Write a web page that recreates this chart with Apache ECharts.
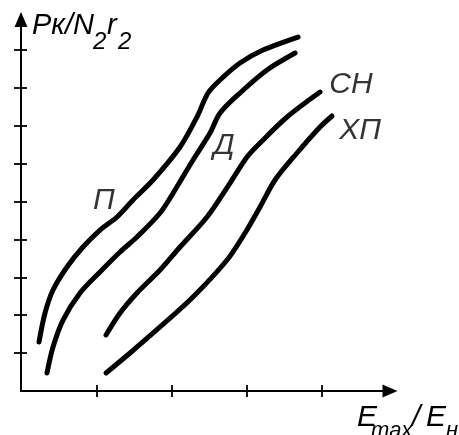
<!DOCTYPE html>
<html>
<head>
<meta charset="utf-8">
<script src="https://cdn.jsdelivr.net/npm/echarts@6/dist/echarts.min.js"></script>
<style>
html,body{margin:0;padding:0;background:#fff;}
#c{width:459px;height:435px;}
</style>
</head>
<body>
<div id="c"></div>
<script>
// Curve data (x in E_max/E_н units, y in Pк/N2r2 units)
var curveP_x = [0.239,0.319,0.425,0.611,0.823,1.049,1.275,1.487,1.753,2.112,2.337,2.483,2.643,2.908,3.214,3.679];
var curveP_y = [1.293,2.058,2.665,3.272,3.799,4.248,4.591,5.040,5.567,6.438,7.230,7.863,8.206,8.654,8.997,9.340];

var curveD_x = [0.345,0.425,0.558,0.784,1.049,1.315,1.540,1.846,2.045,2.284,2.510,2.643,2.908,3.267,3.639];
var curveD_y = [0.475,1.161,1.873,2.586,3.140,3.668,4.063,4.697,5.303,6.095,6.807,7.335,7.863,8.470,8.918];

var curveSN_x = [1.129,1.315,1.540,1.846,2.112,2.470,2.776,3.001,3.174,3.533,3.971];
var curveSN_y = [1.478,2.058,2.586,3.193,3.799,4.591,5.488,6.174,6.544,7.230,7.889];

var curveHP_x = [1.129,1.448,1.846,2.284,2.736,2.975,3.174,3.373,3.665,3.971,4.130];
var curveHP_y = [0.475,1.003,1.689,2.480,3.456,4.169,4.855,5.567,6.280,6.966,7.256];

var curveNames = ['П','Д','СН','ХП'];
var labelX = [1.102, 2.696, 4.382, 4.502];
var labelY = [5.013, 6.464, 8.074, 6.860];

var xTicks = [1,2,3,4];
var yTicks = [1,2,3,4,5,6,7,8,9];
var xMax = 4.9, yMax = 9.8;

function zip(a,b){ var r=[]; for(var i=0;i<a.length;i++) r.push([a[i],b[i]]); return r; }

var FONT = 'Liberation Sans, Arial, sans-serif';
var chart = echarts.init(document.getElementById('c'));

function lineSeries(xs, ys){
  return {
    type:'line', data: zip(xs,ys), smooth:0.3, showSymbol:false, symbol:'none',
    lineStyle:{color:'#000', width:5, cap:'round', join:'round'},
    xAxisIndex:0, yAxisIndex:0, silent:true, clip:false
  };
}

var labelData = [];
for (var i=0;i<curveNames.length;i++) labelData.push([labelX[i], labelY[i], curveNames[i]]);

var axisCommon = {
  type:'value', min:0, splitLine:{show:false}, axisLabel:{show:false}
};
var tickStyle = {color:'#000', width:1.8};

var option = {
  animation:false,
  backgroundColor:'#fff',
  grid:{left:21, right:69, top:19.6, bottom:44, containLabel:false},
  xAxis:[
    Object.assign({}, axisCommon, {
      max:xMax, position:'bottom',
      axisLine:{show:true, onZero:false, symbol:['none','triangle'], symbolSize:[13,15], lineStyle:{color:'#000', width:2}},
      axisTick:{show:true, inside:false, length:6, customValues:xTicks, lineStyle:tickStyle}
    }),
    Object.assign({}, axisCommon, {
      max:xMax, position:'bottom',
      axisLine:{show:true, onZero:false, symbol:'none', lineStyle:{color:'#000', width:2, opacity:0}},
      axisTick:{show:true, inside:true, length:6, customValues:xTicks, lineStyle:tickStyle}
    })
  ],
  yAxis:[
    Object.assign({}, axisCommon, {
      max:yMax, position:'left',
      axisLine:{show:true, onZero:false, symbol:['none','triangle'], symbolSize:[13,15], lineStyle:{color:'#000', width:2}},
      axisTick:{show:true, inside:false, length:7, customValues:yTicks, lineStyle:tickStyle}
    }),
    Object.assign({}, axisCommon, {
      max:yMax, position:'left',
      axisLine:{show:true, onZero:false, symbol:'none', lineStyle:{color:'#000', width:2, opacity:0}},
      axisTick:{show:true, inside:true, length:6, customValues:yTicks, lineStyle:tickStyle}
    })
  ],
  series:[
    lineSeries(curveP_x, curveP_y),
    lineSeries(curveD_x, curveD_y),
    lineSeries(curveSN_x, curveSN_y),
    lineSeries(curveHP_x, curveHP_y),
    {
      type:'scatter', data:labelData, symbolSize:0, silent:true,
      label:{show:true, position:'inside', formatter:function(p){return p.data[2];},
        color:'#000', fontSize:30, fontStyle:'italic', fontFamily:FONT, align:'center', verticalAlign:'middle'}
    }
  ],
  graphic:[
    {type:'text', x:32, y:26, style:{text:'Pк/N', font:'italic 29px '+FONT, fill:'#000', verticalAlign:'middle'}},
    {type:'text', x:93, y:42.6, style:{text:'2', font:'italic 24px '+FONT, fill:'#000', verticalAlign:'middle'}},
    {type:'text', x:107, y:26, style:{text:'r', font:'italic 29px '+FONT, fill:'#000', verticalAlign:'middle'}},
    {type:'text', x:118, y:42.6, style:{text:'2', font:'italic 24px '+FONT, fill:'#000', verticalAlign:'middle'}},
    {type:'text', x:357, y:417.7, style:{text:'E', font:'italic 30px '+FONT, fill:'#000', verticalAlign:'middle'}},
    {type:'text', x:371, y:431.2, style:{text:'max', font:'italic 22px '+FONT, fill:'#000', verticalAlign:'middle'}},
    {type:'text', x:412, y:417.7, style:{text:'/', font:'italic 30px '+FONT, fill:'#000', verticalAlign:'middle'}},
    {type:'text', x:426, y:417.7, style:{text:'E', font:'italic 30px '+FONT, fill:'#000', verticalAlign:'middle'}},
    {type:'text', x:446, y:431.2, style:{text:'н', font:'italic 22px '+FONT, fill:'#000', verticalAlign:'middle'}}
  ]
};
chart.setOption(option);
</script>
</body>
</html>
